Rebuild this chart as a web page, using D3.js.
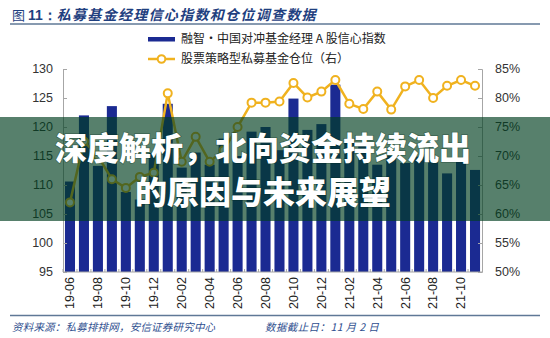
<!DOCTYPE html>
<html><head><meta charset="utf-8">
<script src="https://cdn.jsdelivr.net/npm/d3@7"></script>
<style>
html,body{margin:0;padding:0;background:#fff;}
svg{display:block;}
</style></head>
<body>
<svg id="c" width="550" height="338"></svg>
<script>
const months = ["19-06","19-07","19-08","19-09","19-10","19-11","19-12","20-01","20-02","20-03","20-04","20-05","20-06","20-07","20-08","20-09","20-10","20-11","20-12","21-01","21-02","21-03","21-04","21-05","21-06","21-07","21-08","21-09","21-10","21-11"];
const confidence = [110.6,122.0,113.3,123.6,108.8,107.5,115.5,124.0,113.0,115.6,113.5,118.0,115.0,119.2,120.0,116.0,124.9,119.5,120.5,127.3,118.0,117.2,113.5,115.0,113.8,114.9,114.3,112.0,114.6,112.6];
const position = [62.0,72.5,70.0,66.0,64.5,66.4,67.1,80.8,69.0,73.3,69.0,71.0,75.0,79.2,79.2,79.4,82.6,80.1,81.1,83.1,79.0,78.1,81.1,78.0,82.0,83.1,80.0,82.1,83.1,82.1];
const xTickLabels = ["19-06","19-08","19-10","19-12","20-02","20-04","20-06","20-08","20-10","20-12","21-02","21-04","21-06","21-08","21-10"];
const leftTicks = [95,100,105,110,115,120,125,130];
const rightTicks = [50,55,60,65,70,75,80,85];
const titleText = ["图 ","11：","私募基金经理信心指数和仓位调查数据"];
const legendLabels = ["融智·中国对冲基金经理 A 股信心指数","股票策略型私募基金仓位（右）"];
const sourceText = "资料来源：私募排排网，安信证券研究中心";
const dateText = "数据截止日：11 月 2 日";
const overlayLines = ["深度解析，北向资金持续流出","的原因与未来展望"];

const svg = d3.select("#c");
const L = 63, R = 482, T = 69, B = 272;
const barColor = "#1b2a92", lineColor = "#f0b21f", axisColor = "#a6a6a6";
const cjk = "'Noto Sans CJK SC', sans-serif";
const latin = "'Liberation Sans', Arial, sans-serif";

const x = d3.scaleBand().domain(months).range([L, R]).paddingInner(0.28).paddingOuter(0.14);
const yL = d3.scaleLinear().domain([95,130]).range([B, T]);
const yR = d3.scaleLinear().domain([50,85]).range([B, T]);

// title
const tt = svg.append("text").attr("x", 12).attr("y", 20).attr("fill", "#1f3f7f");
tt.append("tspan").text(titleText[0]).attr("font-family", cjk).attr("font-size", 13);
tt.append("tspan").text(titleText[1]).attr("font-family", latin).attr("font-weight", "bold").attr("font-size", 14);
tt.append("tspan").text(titleText[2]).attr("font-family", cjk).attr("font-weight", "bold").attr("font-size", 14).attr("letter-spacing", 1.3).attr("font-style","italic");
svg.append("line").attr("x1", 10).attr("x2", 540).attr("y1", 24).attr("y2", 24).attr("stroke", "#5f7896").attr("stroke-width", 1.5);

// legend
svg.append("rect").attr("x", 148).attr("y", 37).attr("width", 27).attr("height", 4.5).attr("fill", barColor);
svg.append("text").attr("x", 181).attr("y", 39).attr("dy", "0.35em").attr("font-family", cjk).attr("font-size", 12).attr("fill", "#222").text(legendLabels[0]);
svg.append("line").attr("x1", 148).attr("x2", 175).attr("y1", 59).attr("y2", 59).attr("stroke", lineColor).attr("stroke-width", 2.5);
svg.append("circle").attr("cx", 161.5).attr("cy", 59).attr("r", 3.8).attr("fill", "#fff").attr("stroke", lineColor).attr("stroke-width", 2);
svg.append("text").attr("x", 181).attr("y", 59).attr("dy", "0.35em").attr("font-family", cjk).attr("font-size", 12).attr("fill", "#222").text(legendLabels[1]);

// bars
svg.append("g").selectAll("rect").data(months).join("rect")
  .attr("x", d => x(d)).attr("width", x.bandwidth())
  .attr("y", (d,i) => yL(confidence[i])).attr("height", (d,i) => B - yL(confidence[i]))
  .attr("fill", barColor);

// axes
const axL = svg.append("g").attr("transform", `translate(${L},0)`)
  .call(d3.axisRight(yL).tickValues(leftTicks).tickSize(4).tickFormat(""));
const axR = svg.append("g").attr("transform", `translate(${R},0)`)
  .call(d3.axisLeft(yR).tickValues(rightTicks).tickSize(4).tickFormat(""));
[axL, axR].forEach(a => { a.selectAll("path,line").attr("stroke", axisColor); });
svg.append("g").selectAll("text").data(leftTicks).join("text")
  .attr("x", 53).attr("y", d => yL(d)).attr("dy", "0.35em").attr("text-anchor", "end")
  .attr("font-family", latin).attr("font-size", 12.5).attr("fill", "#333").text(d => d);
svg.append("g").selectAll("text").data(rightTicks).join("text")
  .attr("x", 495).attr("y", d => yR(d)).attr("dy", "0.35em")
  .attr("font-family", latin).attr("font-size", 12.5).attr("fill", "#333").text(d => d + "%");

// bottom axis
svg.append("line").attr("x1", L).attr("x2", R).attr("y1", B).attr("y2", B).attr("stroke", axisColor).attr("stroke-width", 1.2);
svg.append("g").selectAll("line").data(months).join("line")
  .attr("x1", d => x(d) - x.step()*x.paddingInner()/2).attr("x2", d => x(d) - x.step()*x.paddingInner()/2)
  .attr("y1", B).attr("y2", B - 3).attr("stroke", axisColor);
svg.append("g").selectAll("text").data(xTickLabels).join("text")
  .attr("transform", d => `translate(${x(d) + x.bandwidth()/2},277) rotate(-90)`)
  .attr("dy", "0.35em").attr("text-anchor", "end")
  .attr("font-family", latin).attr("font-size", 12.5).attr("fill", "#222").text(d => d);

// line
const pts = months.map((m,i) => [x(m) + x.bandwidth()/2, yR(position[i])]);
svg.append("path").attr("d", d3.line()(pts)).attr("fill", "none").attr("stroke", lineColor).attr("stroke-width", 2.5);
svg.append("g").selectAll("circle").data(pts).join("circle")
  .attr("cx", d => d[0]).attr("cy", d => d[1]).attr("r", 4)
  .attr("fill", "#fff").attr("stroke", lineColor).attr("stroke-width", 2);

// footer
svg.append("line").attr("x1", 10).attr("x2", 540).attr("y1", 315.5).attr("y2", 315.5).attr("stroke", "#5f7896").attr("stroke-width", 1.5);
svg.append("text").attr("x", 12).attr("y", 327).attr("dy", "0.35em").attr("font-family", cjk).attr("font-style", "italic")
  .attr("font-size", 10.5).attr("letter-spacing", 0.2).attr("fill", "#2f4f8f").text(sourceText);
svg.append("text").attr("x", 265).attr("y", 327).attr("dy", "0.35em").attr("font-family", cjk).attr("font-style", "italic")
  .attr("font-size", 10.5).attr("letter-spacing", 0.4).attr("fill", "#2f4f8f").text(dateText);

// overlay band
svg.append("rect").attr("x", 0).attr("y", 117).attr("width", 550).attr("height", 104).attr("fill", "rgb(0,62,32)").attr("fill-opacity", 0.66);
svg.append("g").selectAll("text").data(overlayLines).join("text")
  .attr("x", 263).attr("y", (d,i) => 148 + i*44).attr("dy", "0.36em").attr("text-anchor", "middle")
  .attr("font-family", cjk).attr("font-weight", 900).attr("font-size", 32).attr("fill", "#fff")
  .style("paint-order", "stroke").attr("stroke", "rgba(0,40,20,0.35)").attr("stroke-width", 1.5)
  .text(d => d);
</script>
</body></html>
